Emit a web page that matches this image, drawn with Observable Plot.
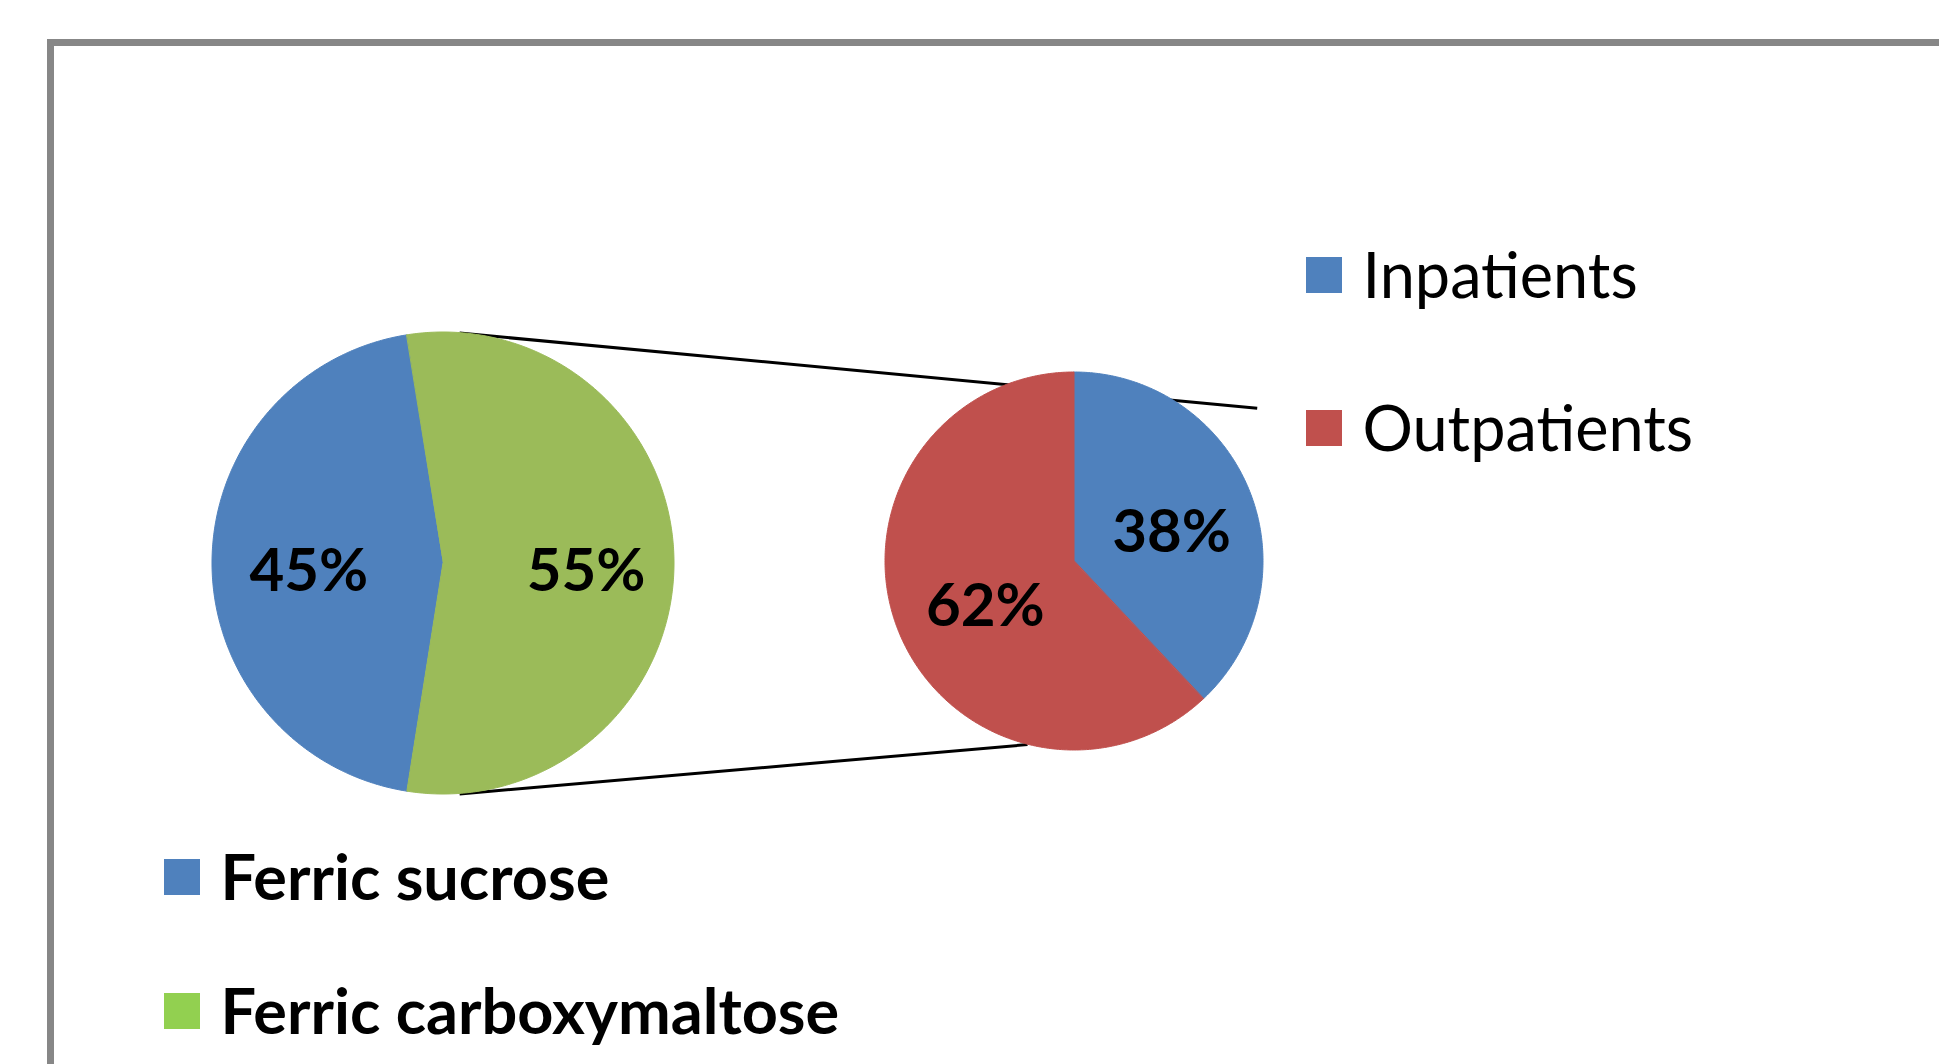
<!DOCTYPE html>
<html>
<head>
<meta charset="utf-8">
<script src="https://cdn.jsdelivr.net/npm/d3@7"></script>
<script src="https://cdn.jsdelivr.net/npm/@observablehq/plot@0.6"></script>
<style>
  html, body { margin: 0; padding: 0; overflow: hidden; background: #fff; width: 1939px; height: 1064px; }
  #chart { position: absolute; left: 0; top: 0; }
  #frame { position: absolute; left: 47px; top: 39px; width: 3000px; height: 3000px;
           border-top: 7px solid #878787; border-left: 7px solid #878787; box-sizing: border-box; pointer-events: none; }
</style>
</head>
<body>
<div id="chart"></div>
<div id="frame"></div>
<script>
// ---------- data ----------
const treatments = ["Ferric sucrose", "Ferric carboxymaltose"];
const treatmentShares = [45, 55];
const treatmentColors = ["#4F81BD", "#9BBB59"];
const treatmentLegendColors = ["#4F81BD", "#92D050"];
const splitIndex = 1; // slice broken out into the secondary pie

const patientTypes = ["Inpatients", "Outpatients"];
const patientShares = [38, 62];
const patientColors = ["#4F81BD", "#C0504D"];

// ---------- layout ----------
const W = 1939, H = 1064;
const FONT = "Lato, 'Open Sans', 'DejaVu Sans', sans-serif";
const mainPie = {cx: 443, cy: 563, r: 231, labelFrac: 0.6};
const subPie = {cx: 1074, cy: 561, r: 189, labelFrac: 0.53};

const rad = a => a * Math.PI / 180;
const pt = (pie, a, f = 1) => [pie.cx + pie.r * f * Math.sin(rad(a)), pie.cy - pie.r * f * Math.cos(rad(a))];

function slices(values, start) {
  const total = d3.sum(values);
  let a = start;
  return values.map((v, i) => {
    const a0 = a, a1 = a + v / total * 360;
    a = a1;
    return {i, a0, a1, mid: (a0 + a1) / 2, value: v};
  });
}

// main pie: the split slice is centred on the right (90°)
const mainStart = 90 + treatmentShares[splitIndex] / d3.sum(treatmentShares) * 180;
const mainSlices = slices(treatmentShares, mainStart);
const subSlices = slices(patientShares, 0);

function wedgeRows(pie, sl, colors, prefix) {
  const rows = [];
  for (const s of sl) {
    const n = Math.ceil((s.a1 - s.a0) / 0.5);
    for (let k = 0; k <= n; k++) {
      const a = s.a0 + (s.a1 - s.a0) * k / n;
      const [x, y] = pt(pie, a);
      rows.push({key: prefix + s.i, color: colors[s.i], x1: x, y1: y, x2: pie.cx, y2: pie.cy});
    }
  }
  return rows;
}
const mainRows = wedgeRows(mainPie, mainSlices, treatmentColors, "m");
const subRows = wedgeRows(subPie, subSlices, patientColors, "s");

function labelRows(pie, sl, values) {
  const total = d3.sum(values);
  return sl.map(s => {
    const [x, y] = pt(pie, s.mid, pie.labelFrac);
    return {x, y, text: Math.round(s.value / total * 100) + "%"};
  });
}
const labels = [...labelRows(mainPie, mainSlices, treatmentShares), ...labelRows(subPie, subSlices, patientShares)];

// connector lines from the main pie to the secondary pie
const topStart = pt(mainPie, 4), botStart = pt(mainPie, 176);
const topEnd = pt(subPie, 50, 1.262), botEnd = pt(subPie, 194.4, 1.0);
const connectors = [
  {x1: topStart[0], y1: topStart[1], x2: topEnd[0], y2: topEnd[1]},
  {x1: botStart[0], y1: botStart[1], x2: botEnd[0], y2: botEnd[1]}
];

// legends
const SW = 36;
const rightLegend = patientTypes.map((t, i) => ({label: t, color: patientColors[i], x: 1306, y: 275 + i * 153}));
const bottomLegend = treatments.map((t, i) => ({label: t, color: treatmentLegendColors[i], x: 164, y: 877 + i * 134}));

const chart = Plot.plot({
  width: W, height: H, margin: 0,
  x: {domain: [0, W], range: [0, W], axis: null},
  y: {domain: [0, H], range: [0, H], axis: null},
  color: {type: "identity"},
  style: {background: "transparent", fontFamily: FONT},
  marks: [
    Plot.link(connectors, {x1: "x1", y1: "y1", x2: "x2", y2: "y2", stroke: "#000", strokeWidth: 3}),
    Plot.area(mainRows, {x1: "x1", y1: "y1", x2: "x2", y2: "y2", z: "key", fill: "color", stroke: "color", strokeWidth: 1}),
    Plot.area(subRows, {x1: "x1", y1: "y1", x2: "x2", y2: "y2", z: "key", fill: "color", stroke: "color", strokeWidth: 1}),
    Plot.text(labels, {x: "x", y: "y", text: "text", fontSize: 60, fontWeight: "bold", fill: "#000", fontFamily: FONT, dx: 4, dy: 8}),
    Plot.rect(rightLegend, {x1: d => d.x, x2: d => d.x + SW, y1: d => d.y - SW / 2, y2: d => d.y + SW / 2, fill: "color"}),
    Plot.text(rightLegend, {x: d => d.x + 56, y: "y", text: "label", textAnchor: "start", fontSize: 63, fill: "#000", fontFamily: FONT, dy: 2}),
    Plot.rect(bottomLegend, {x1: d => d.x, x2: d => d.x + SW, y1: d => d.y - SW / 2, y2: d => d.y + SW / 2, fill: "color"}),
    Plot.text(bottomLegend, {x: d => d.x + 56, y: "y", text: "label", textAnchor: "start", fontSize: 63, fontWeight: "bold", fill: "#000", fontFamily: FONT, dy: 2})
  ]
});
document.getElementById("chart").appendChild(chart);
</script>
</body>
</html>
